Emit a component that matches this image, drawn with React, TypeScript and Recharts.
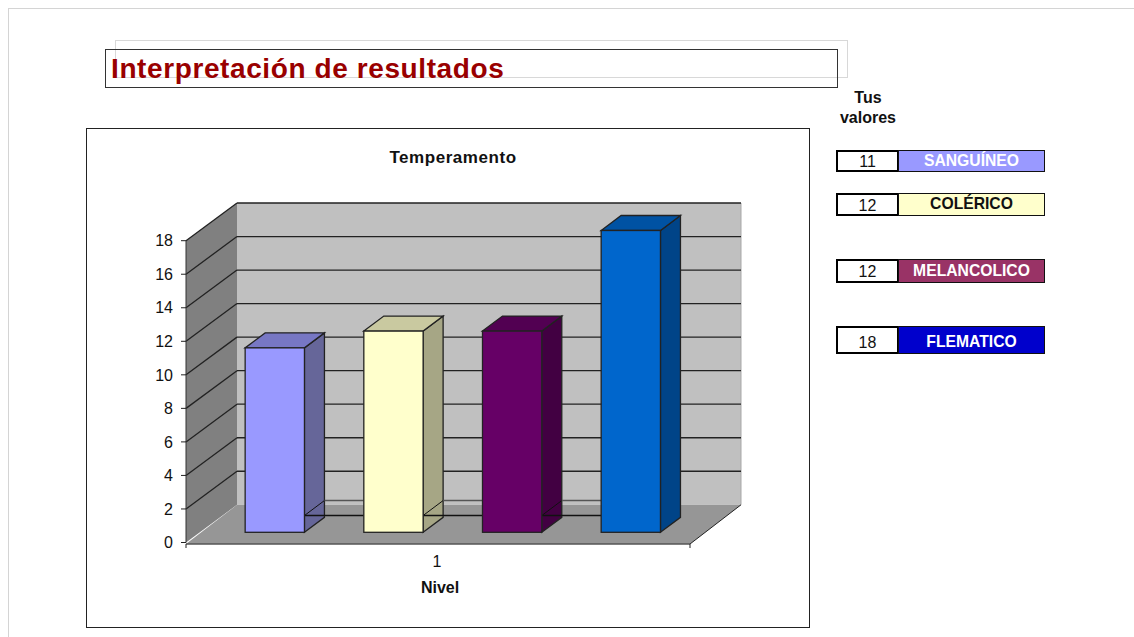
import React from "react";
import { Bar, BarChart, CartesianGrid, Label, ReferenceArea, XAxis, YAxis } from "recharts";

const categories = ["1"];
const temperamentos = ["SANGUÍNEO", "COLÉRICO", "MELANCOLICO", "FLEMATICO"];
const valores = [11, 12, 12, 18];
const yTicks = [0, 2, 4, 6, 8, 10, 12, 14, 16, 18];
const nivelBase = 1; // linea rara que sale a la altura 1 entre las barras

const frontColors = ["#9999FF", "#FFFFCC", "#660066", "#0066CC"];
const topColors = ["#7777C4", "#C9C9A0", "#520052", "#0052A3"];
const sideColors = ["#666699", "#A6A685", "#420042", "#004488"];
const panelColors = ["#9999FF", "#FFFFCC", "#993366", "#0000CC"];
const panelText = ["#FFFFFF", "#111111", "#FFFFFF", "#FFFFFF"];
const panelTops = [150, 193, 259, 326];
const panelHeights = [22, 23, 24, 28];
const labelShift = [1, 0, 1, 3];
const valueShift = [0, 0, 0, 2];

const chartData = categories.map((name) => {
  const row: Record<string, string | number> = { name };
  temperamentos.forEach((t, i) => { row[t] = valores[i]; });
  return row;
});

// profundidad del grafico 3D
const WALL_DX = 51;
const WALL_DY = -37.7;
const BAR_DX = 20;
const BAR_DY = -15;
const BAR_SHIFT_X = 15.15;
const BAR_SHIFT_Y = -10.2;
const BAR_SIZE = 59.3;
const BAR_GAP = 59.37;
const LINE = "#222";
const LINE_W = 1.3;

const CHART_H = 498;
const MARGIN_BOTTOM = 54.5;
const XAXIS_H = 30;
const PLOT_BOTTOM = CHART_H - MARGIN_BOTTOM - XAXIS_H;

const pts = (list: number[][]) => list.map((p) => p.join(",")).join(" ");

function Walls({ x, y, width, height }: any) {
  const bottom = y + height;
  const right = x + width;
  const floorFront = bottom + 1.5;
  return (
    <g>
      <polygon
        points={pts([[x + WALL_DX, y + WALL_DY], [right + WALL_DX, y + WALL_DY], [right + WALL_DX, bottom + WALL_DY], [x + WALL_DX, bottom + WALL_DY]])}
        fill="#C0C0C0"
      />
      <line x1={right + WALL_DX} y1={y + WALL_DY} x2={right + WALL_DX} y2={bottom + WALL_DY} stroke="#A8A8A8" />
      <polygon
        points={pts([[x, y], [x + WALL_DX, y + WALL_DY], [x + WALL_DX, bottom + WALL_DY], [x, bottom]])}
        fill="#808080"
      />
      <polygon
        points={pts([[x, floorFront], [x + WALL_DX, bottom + WALL_DY], [right + WALL_DX, bottom + WALL_DY], [right, floorFront]])}
        fill="#969696"
      />
      <line x1={x} y1={floorFront} x2={right} y2={floorFront} stroke="#555" strokeWidth={1.5} />
      <line x1={right} y1={floorFront} x2={right + WALL_DX} y2={bottom + WALL_DY} stroke="#222" />
      <line x1={right} y1={floorFront} x2={right} y2={floorFront + 4} stroke="#222" />
      <line x1={x} y1={floorFront} x2={x} y2={floorFront + 4} stroke="#222" />
    </g>
  );
}

function gridLine(props: any) {
  const { x1, y1, x2, index } = props;
  // el nivel 0 no lleva linea: el suelo y la pared se tocan sin borde
  if (y1 >= PLOT_BOTTOM - 1) return <g key={index} />;
  return (
    <g key={index}>
      <line x1={x1} y1={y1} x2={x1 + WALL_DX} y2={y1 + WALL_DY} stroke={LINE} strokeWidth={LINE_W} />
      <line x1={x1 + WALL_DX} y1={y1 + WALL_DY} x2={x2 + WALL_DX} y2={y1 + WALL_DY} stroke={LINE} strokeWidth={LINE_W} />
    </g>
  );
}

function makeBarShape(i: number) {
  return function BarShape(props: any) {
    const { x, y, width, height, value } = props;
    const left = x + BAR_SHIFT_X;
    const right = left + width;
    const top = y + BAR_SHIFT_Y;
    const bottom = top + height;
    const mark = bottom - (height / value) * nivelBase;
    const hasNext = i < valores.length - 1;
    return (
      <g>
        <polygon
          points={pts([[right, top], [right + BAR_DX, top + BAR_DY], [right + BAR_DX, bottom + BAR_DY], [right, bottom]])}
          fill={sideColors[i]} stroke={LINE} strokeWidth={LINE_W}
        />
        <polygon
          points={pts([[left, top], [left + BAR_DX, top + BAR_DY], [right + BAR_DX, top + BAR_DY], [right, top]])}
          fill={topColors[i]} stroke={LINE} strokeWidth={LINE_W}
        />
        {hasNext && (
          <g>
            <line x1={right} y1={mark} x2={right + BAR_DX} y2={mark + BAR_DY} stroke="#111" />
            <line x1={right} y1={mark} x2={right + BAR_GAP} y2={mark} stroke="#111" strokeWidth={1.5} />
            <line x1={right + BAR_DX} y1={mark + BAR_DY} x2={right + BAR_GAP} y2={mark + BAR_DY} stroke="#555" strokeWidth={1.5} />
          </g>
        )}
        <rect x={left} y={top} width={width} height={height} fill={frontColors[i]} stroke={LINE} strokeWidth={LINE_W} />
      </g>
    );
  };
}

const arial = "'Liberation Sans', Arial, sans-serif";

function abs(left: number, top: number, width: number, height: number): React.CSSProperties {
  return { position: "absolute", left, top, width, height, boxSizing: "border-box" };
}

export default function App() {
  return (
    <div style={{ ...abs(0, 0, 1134, 637), background: "#fff", fontFamily: arial, overflow: "hidden", color: "#111" }}>
      <div style={{ ...abs(8, 8, 1126, 629), borderTop: "1px solid #D4D4D4", borderLeft: "1px solid #D4D4D4" }} />
      <div style={{ ...abs(115, 40, 733, 38), border: "1px solid #D8D8D8" }} />
      <div style={{ ...abs(105, 49, 733, 39), border: "1px solid #333" }} />
      <div style={{ position: "absolute", left: 111, top: 53, fontSize: 28, letterSpacing: 0.6, fontWeight: 700, color: "#990000", whiteSpace: "nowrap" }}>
        Interpretación de resultados
      </div>

      <div style={{ ...abs(86, 128, 724, 500), border: "1px solid #222" }} />
      <div style={{ position: "absolute", left: 86, width: 734, top: 148, textAlign: "center", fontSize: 17, letterSpacing: 0.55, fontWeight: 700 }}>
        Temperamento
      </div>
      <div style={{ position: "absolute", left: 87, top: 129 }}>
        <BarChart
          width={722}
          height={CHART_H}
          data={chartData}
          barSize={BAR_SIZE}
          barGap={BAR_GAP}
          margin={{ top: 111.7, right: 119, left: 69, bottom: MARGIN_BOTTOM }}
        >
          <ReferenceArea y1={0} y2={18} ifOverflow="visible" shape={<Walls />} zIndex={-200} />
          <CartesianGrid vertical={false} horizontal={gridLine} />
          <XAxis
            dataKey="name"
            height={XAXIS_H}
            axisLine={false}
            tickLine={false}
            tickMargin={7}
            tick={{ fontSize: 16, fill: "#111", fontFamily: arial, dx: -1 }}
          >
            <Label value="Nivel" position="insideBottom" offset={-20} dx={2} style={{ fontSize: 16, fontWeight: 700, fill: "#111", fontFamily: arial }} />
          </XAxis>
          <YAxis
            width={30}
            domain={[0, 18]}
            ticks={yTicks}
            interval={0}
            tickSize={5}
            tickMargin={8}
            axisLine={{ stroke: "#333" }}
            tickLine={{ stroke: "#222" }}
            tick={{ fontSize: 16, fill: "#111", fontFamily: arial }}
          />
          {temperamentos.map((t, i) => (
            <Bar key={t} dataKey={t} isAnimationActive={false} shape={makeBarShape(i)} />
          ))}
        </BarChart>
      </div>

      <div style={{ position: "absolute", left: 828, width: 80, top: 88, textAlign: "center", fontSize: 16, fontWeight: 700, lineHeight: "20px" }}>
        Tus<br />valores
      </div>
      {temperamentos.map((t, i) => (
        <React.Fragment key={t}>
          <div
            style={{
              ...abs(836, panelTops[i], 63, panelHeights[i]),
              border: "2px solid #000",
              background: "#fff",
              textAlign: "center",
              fontSize: 16,
              lineHeight: `${panelHeights[i] - 2 + valueShift[i] * 2}px`,
            }}
          >
            {valores[i]}
          </div>
          <div
            style={{
              ...abs(898, panelTops[i], 147, panelHeights[i]),
              border: "1px solid #111",
              background: panelColors[i],
              color: panelText[i],
              textAlign: "center",
              fontSize: 15.7,
              fontWeight: 700,
              whiteSpace: "nowrap",
              lineHeight: `${panelHeights[i] - 4 + labelShift[i] * 2}px`,
            }}
          >
            {t}
          </div>
        </React.Fragment>
      ))}
    </div>
  );
}
